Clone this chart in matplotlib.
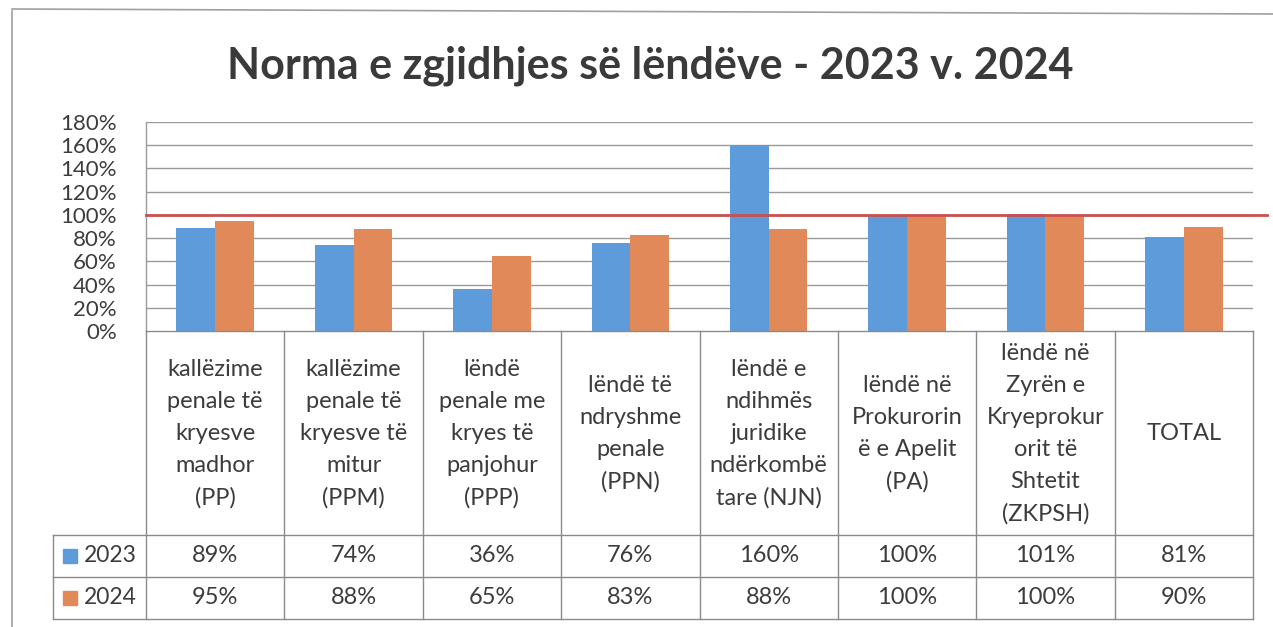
import matplotlib
matplotlib.use("Agg")
import matplotlib.pyplot as plt
import numpy as np

plt.rcParams['font.family'] = ['Lato', 'DejaVu Sans']

title = "Norma e zgjidhjes së lëndëve - 2023 v. 2024"
categories = [
    "kallëzime\npenale të\nkryesve\nmadhor\n(PP)",
    "kallëzime\npenale të\nkryesve të\nmitur\n(PPM)",
    "lëndë\npenale me\nkryes të\npanjohur\n(PPP)",
    "lëndë të\nndryshme\npenale\n(PPN)",
    "lëndë e\nndihmës\njuridike\nndërkombë\ntare (NJN)",
    "lëndë në\nProkurorin\në e Apelit\n(PA)",
    "lëndë në\nZyrën e\nKryeprokur\norit të\nShtetit\n(ZKPSH)",
    "TOTAL",
]
series_names = ["2023", "2024"]
values_2023 = [0.89, 0.74, 0.36, 0.76, 1.60, 1.00, 1.01, 0.81]
values_2024 = [0.95, 0.88, 0.65, 0.83, 0.88, 1.00, 1.00, 0.90]
target = 1.0
yticks = [0, 0.2, 0.4, 0.6, 0.8, 1.0, 1.2, 1.4, 1.6, 1.8]

BLUE = "#5E9BDA"
ORANGE = "#E2895A"
RED = "#C9514F"
TXT = "#3C3C3C"
GRID = "#9A9A9A"
LINE = "#8A8A8A"

W, H = 1273, 627
fig = plt.figure(figsize=(W / 100, H / 100), dpi=100)

# layout (pixels)
px_left, px_right = 146, 1253
px_top, px_zero = 122, 331
hdr_bottom, row1_bottom, row2_bottom = 535, 577, 619
tbl_left = 53

ax = fig.add_axes([px_left / W, 1 - px_zero / H, (px_right - px_left) / W, (px_zero - px_top) / H])
n = len(categories)
x = np.arange(n)
bw = 0.28
ax.bar(x - bw / 2, values_2023, bw, color=BLUE, zorder=3, label=series_names[0])
ax.bar(x + bw / 2, values_2024, bw, color=ORANGE, zorder=3, label=series_names[1])
ax.set_xlim(-0.5, n - 0.5)
ax.set_ylim(0, 1.8)
ax.set_yticks(yticks)
ax.set_yticklabels([f"{int(round(v * 100))}%" for v in yticks], fontsize=16, color=TXT)
ax.tick_params(axis='y', length=0, pad=21)
ax.set_xticks([])
for v in yticks[1:]:
    ax.axhline(v, color=GRID, lw=1.0, zorder=1)
for s in ['top', 'right', 'bottom']:
    ax.spines[s].set_visible(False)
ax.spines['left'].set_color(GRID)
ax.spines['left'].set_linewidth(1.0)
ax.axhline(target, xmin=0, xmax=1.013, color=RED, lw=2.0, zorder=4, clip_on=False)

# overlay for table and frame
ov = fig.add_axes([0, 0, 1, 1])
ov.set_xlim(0, W)
ov.set_ylim(H, 0)
ov.axis('off')
ov.patch.set_alpha(0)

# outer frame
ov.plot([12, 12], [11, H], color="#A0A0A0", lw=1.2)
ov.plot([12, W], [9, 14], color="#A0A0A0", lw=1.2)

# title
ov.text(650, 66, title, ha='center', va='center', fontsize=31, fontweight='bold', color="#3A3A3A")

# table
colw = (px_right - px_left) / n
ov.plot([px_left, px_right], [px_zero, px_zero], color=LINE, lw=1.0)
for i in range(n + 1):
    xx = px_left + i * colw
    ov.plot([xx, xx], [px_zero, row2_bottom], color=LINE, lw=1.0)
for yy in [hdr_bottom, row1_bottom, row2_bottom]:
    ov.plot([tbl_left, px_right], [yy, yy], color=LINE, lw=1.0)
ov.plot([tbl_left, tbl_left], [hdr_bottom, row2_bottom], color=LINE, lw=1.0)

hdr_mid = 434
for i, c in enumerate(categories):
    cx = px_left + (i + 0.5) * colw
    ov.text(cx, hdr_mid, c, ha='center', va='center', fontsize=17, color=TXT,
            linespacing=1.65, multialignment='center')

rows = [(series_names[0], values_2023, BLUE), (series_names[1], values_2024, ORANGE)]
row_mids = [(hdr_bottom + row1_bottom) / 2, (row1_bottom + row2_bottom) / 2]
for (name, vals, col), ym in zip(rows, row_mids):
    ov.add_patch(plt.Rectangle((63, ym - 7), 14, 14, color=col))
    ov.text(84, ym, name, ha='left', va='center', fontsize=16.5, color=TXT)
    for i, v in enumerate(vals):
        cx = px_left + (i + 0.5) * colw
        ov.text(cx, ym, f"{int(round(v * 100))}%", ha='center', va='center', fontsize=17, color=TXT)

fig.savefig("out.png", dpi=100)
